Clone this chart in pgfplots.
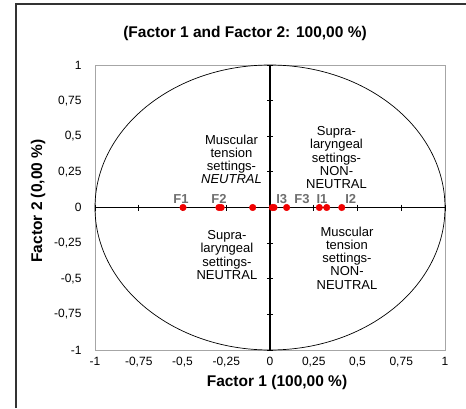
\documentclass[border=0pt]{standalone}
\usepackage{pgfplots}
\pgfplotsset{compat=1.18}
\usepackage{fontspec}
\setmainfont{Liberation Sans}
\definecolor{lblgray}{RGB}{110,110,110}
\definecolor{ptred}{RGB}{240,0,0}
\begin{document}
\begin{tikzpicture}[x=1pt,y=1pt]
\path[use as bounding box] (0,0) rectangle (466,408);
\draw[line width=1.3pt, black!80] (16,0) -- (16,404) -- (466,404);
\node[font=\bfseries\fontsize{15.5}{18}\selectfont] at (245,375) {(Factor 1 and Factor 2: 100,00 \%)};
\node[font=\bfseries\fontsize{15.5}{18}\selectfont] at (277,26) {Factor 1 (100,00 \%)};
\node[font=\bfseries\fontsize{15.5}{18}\selectfont, rotate=90] at (38,207) {Factor 2 (0,00 \%)};
\begin{axis}[
  at={(95pt,58pt)}, anchor=south west,
  scale only axis, width=350pt, height=285pt,
  xmin=-1, xmax=1, ymin=-1, ymax=1,
  axis line style={black!35, line width=0.8pt},
  major tick length=0pt,
  xtick={-1,-0.75,-0.5,-0.25,0,0.25,0.5,0.75,1},
  ytick={-1,-0.75,-0.5,-0.25,0,0.25,0.5,0.75,1},
  xticklabels={-1,{-0,75},{-0,5},{-0,25},0,{0,25},{0,5},{0,75},1},
  yticklabels={-1,{-0,75},{-0,5},{-0,25},0,{0,25},{0,5},{0,75},1},
  tick label style={font=\fontsize{12}{14}\selectfont},
  xticklabel style={yshift=-4pt},
  yticklabel style={xshift=-10pt},
  clip=false,
]
\draw[black, line width=0.7pt] (axis cs:0,0) ellipse [x radius=1, y radius=1];
\addplot[black, line width=1pt, mark=|, mark size=3pt, mark options={line width=0.8pt}] coordinates {(-1,0)(-0.75,0)(-0.5,0)(-0.25,0)(0,0)(0.25,0)(0.5,0)(0.75,0)(1,0)};
\addplot[black, line width=2pt, mark=-, mark size=3pt, mark options={line width=0.8pt}] coordinates {(0,-1)(0,-0.75)(0,-0.5)(0,-0.25)(0,0)(0,0.25)(0,0.5)(0,0.75)(0,1)};
\addplot[only marks, mark=*, mark size=3.3pt, ptred, mark options={draw=ptred, fill=ptred}] coordinates {(-0.497,0)(-0.292,0)(-0.279,0)(-0.099,0)(0.013,0)(0.023,0)(0.095,0)(0.282,0)(0.324,0)(0.41,0)};
\node[lblgray, font=\bfseries\fontsize{13}{15}\selectfont] at (axis cs:-0.509,0.058) {F1};
\node[lblgray, font=\bfseries\fontsize{13}{15}\selectfont] at (axis cs:-0.291,0.058) {F2};
\node[lblgray, font=\bfseries\fontsize{13}{15}\selectfont] at (axis cs:0.067,0.058) {I3};
\node[lblgray, font=\bfseries\fontsize{13}{15}\selectfont] at (axis cs:0.183,0.058) {F3};
\node[lblgray, font=\bfseries\fontsize{13}{15}\selectfont] at (axis cs:0.297,0.058) {I1};
\node[lblgray, font=\bfseries\fontsize{13}{15}\selectfont] at (axis cs:0.461,0.058) {I2};
\node[align=center, font=\fontsize{13}{13.2}\selectfont] at (axis cs:-0.22,0.337) {Muscular\\tension\\settings-\\\textit{NEUTRAL}};
\node[align=center, font=\fontsize{13}{13.2}\selectfont] at (axis cs:0.38,0.35) {Supra-\\laryngeal\\settings-\\NON-\\NEUTRAL};
\node[align=center, font=\fontsize{13}{13.2}\selectfont] at (axis cs:-0.246,-0.333) {Supra-\\laryngeal\\settings-\\NEUTRAL};
\node[align=center, font=\fontsize{13}{13.2}\selectfont] at (axis cs:0.44,-0.355) {Muscular\\tension\\settings-\\NON-\\NEUTRAL};
\end{axis}
\end{tikzpicture}
\end{document}
